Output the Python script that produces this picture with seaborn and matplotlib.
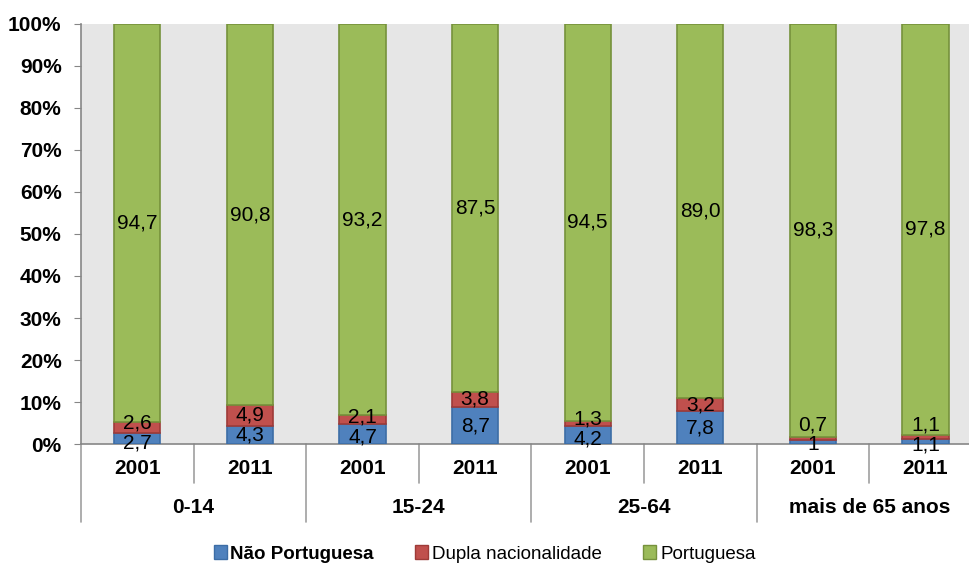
import numpy as np
import seaborn as sns
import matplotlib.pyplot as plt
from matplotlib.patches import Patch
from matplotlib.transforms import blended_transform_factory

# dados (% por nacionalidade, grupo etario e ano)
groups = ['0-14', '15-24', '25-64', 'mais de 65 anos']
years = ['2001', '2011']
nao_portuguesa = [2.7, 4.3, 4.7, 8.7, 4.2, 7.8, 1.0, 1.1]
dupla = [2.6, 4.9, 2.1, 3.8, 1.3, 3.2, 0.7, 1.1]
portuguesa = [94.7, 90.8, 93.2, 87.5, 94.5, 89.0, 98.3, 97.8]
series_names = ['Não Portuguesa', 'Dupla nacionalidade', 'Portuguesa']


def create_graphic():
    sns.set_style('white')
    plt.rcParams['font.family'] = ['Liberation Sans', 'DejaVu Sans']
    plt.rcParams['text.color'] = 'black'
    plt.rcParams['xtick.labelcolor'] = 'black'
    plt.rcParams['ytick.labelcolor'] = 'black'

    keys = [g + ' ' + y for g in groups for y in years]
    blue = np.array(nao_portuguesa)
    red = np.array(dupla)
    green = np.array(portuguesa)

    fig = plt.figure(figsize=(9.69, 5.65), dpi=100)
    ax = fig.add_axes([81 / 969, 121 / 565, 900.8 / 969, 420 / 565])
    ax.set_facecolor('#E6E6E6')

    colors = ['#4F81BD', '#C0504D', '#9BBB59']
    edges = ['#3C6DA6', '#9E3B38', '#76923C']
    bottoms = [np.zeros(8), blue, blue + red]
    for vals, bot, c, e in zip([blue, red, green], bottoms, colors, edges):
        sns.barplot(x=keys, y=vals, bottom=bot, color=c, edgecolor=e, saturation=1,
                    linewidth=1.2, width=0.41, errorbar=None, ax=ax, zorder=3)

    ax.set_xlim(-0.5, 7.5)
    ax.set_ylim(0, 100)
    ax.set_yticks(range(0, 101, 10))
    ax.set_yticklabels(['%d%%' % v for v in range(0, 101, 10)],
                       fontsize=15, fontweight='bold')
    ax.set_xticks(range(8))
    ax.set_xticklabels(years * 4, fontsize=15, fontweight='bold')
    ax.tick_params(axis='y', length=5, color='#868686', pad=9, left=True)
    ax.tick_params(axis='x', length=0, pad=11)
    for s in ['top', 'right']:
        ax.spines[s].set_visible(False)
    for s in ['left', 'bottom']:
        ax.spines[s].set_color('#868686')
        ax.spines[s].set_linewidth(1.2)
    ax.set_xlabel('')
    ax.set_ylabel('')

    # rotulos dos valores
    for i in range(8):
        yb = blue[i] / 2
        yr = blue[i] + red[i] / 2
        if yr - yb < 4.8:
            mid = (yb + yr) / 2
            yb = max(mid - 2.4, -0.2)
            yr = yb + 4.8
        yg = blue[i] + red[i] + green[i] / 2
        ax.text(i, yb, f'{blue[i]:g}'.replace('.', ','), ha='center', va='center', fontsize=15, zorder=5)
        ax.text(i, yr, f'{red[i]:.1f}'.replace('.', ','), ha='center', va='center', fontsize=15, zorder=5)
        ax.text(i, yg, f'{green[i]:.1f}'.replace('.', ','), ha='center', va='center', fontsize=15, zorder=5)

    # separadores do eixo x em dois niveis
    trans = blended_transform_factory(ax.transData, ax.transAxes)
    for xs in [-0.5, 1.5, 3.5, 5.5, 7.5]:
        ax.plot([xs, xs], [0, -0.186], color='#A0A0A0', lw=1.2, transform=trans, clip_on=False)
    for xs in [0.5, 2.5, 4.5, 6.5]:
        ax.plot([xs, xs], [0, -0.093], color='#A0A0A0', lw=1.2, transform=trans, clip_on=False)
    for k, g in enumerate(groups):
        ax.text(2 * k + 0.5, -0.152, g, transform=trans, ha='center', va='center',
                fontsize=15, fontweight='bold')

    handles = [Patch(facecolor=c, edgecolor=e, linewidth=1) for c, e in zip(colors, edges)]
    leg = fig.legend(handles, series_names, loc='center', bbox_to_anchor=(0.5, 11 / 565),
                     ncol=3, frameon=False, fontsize=13.5, handlelength=0.7, handleheight=0.7,
                     handletextpad=0.2, columnspacing=2.2)
    leg.get_texts()[0].set_fontweight('bold')

    fig.savefig('out.png', dpi=100)


if __name__ == '__main__':
    create_graphic()
